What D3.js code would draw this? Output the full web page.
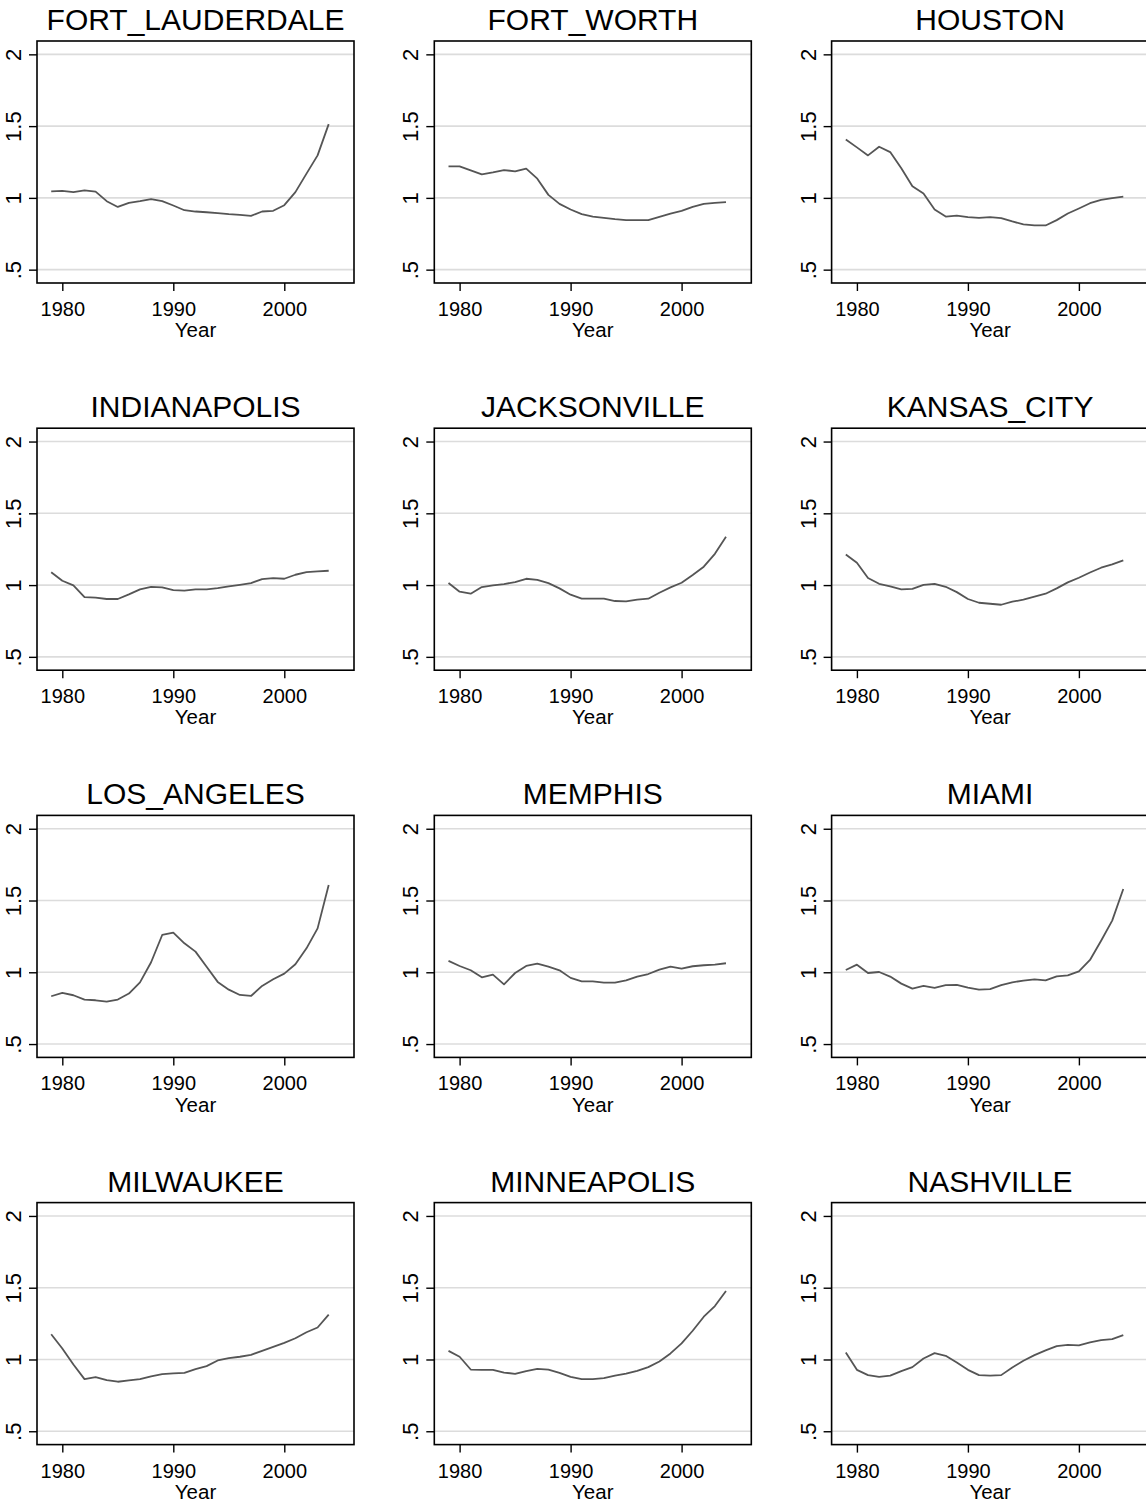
<!DOCTYPE html>
<html>
<head>
<meta charset="utf-8">
<script src="https://cdn.jsdelivr.net/npm/d3@7"></script>
<style>
  html, body { margin: 0; padding: 0; background: #ffffff; overflow: hidden; }
  svg { display: block; }
  text { font-family: "Liberation Sans", Arial, Helvetica, sans-serif; fill: #000; }
</style>
</head>
<body>
<svg id="chart" width="1146" height="1506"></svg>
<script>
// ---- data ----
const years = [1979,1980,1981,1982,1983,1984,1985,1986,1987,1988,1989,1990,1991,1992,1993,1994,1995,1996,1997,1998,1999,2000,2001,2002,2003,2004];
const cities = ["FORT_LAUDERDALE","FORT_WORTH","HOUSTON","INDIANAPOLIS","JACKSONVILLE","KANSAS_CITY","LOS_ANGELES","MEMPHIS","MIAMI","MILWAUKEE","MINNEAPOLIS","NASHVILLE"];
const fortLauderdale = [1.046,1.049,1.040,1.053,1.044,0.977,0.937,0.965,0.977,0.991,0.977,0.947,0.914,0.905,0.900,0.894,0.887,0.882,0.875,0.905,0.910,0.949,1.040,1.169,1.296,1.514];
const fortWorth      = [1.220,1.220,1.192,1.164,1.178,1.194,1.185,1.204,1.134,1.021,0.958,0.919,0.887,0.870,0.861,0.852,0.845,0.845,0.845,0.868,0.891,0.910,0.938,0.958,0.965,0.970];
const houston        = [1.407,1.352,1.296,1.356,1.319,1.206,1.081,1.030,0.919,0.870,0.877,0.866,0.861,0.866,0.859,0.836,0.815,0.808,0.808,0.845,0.891,0.926,0.963,0.986,0.998,1.009];
const indianapolis   = [1.090,1.030,0.998,0.916,0.912,0.903,0.903,0.935,0.970,0.988,0.984,0.965,0.961,0.970,0.970,0.979,0.991,1.002,1.014,1.042,1.049,1.044,1.072,1.090,1.095,1.100];
const jacksonville   = [1.014,0.954,0.940,0.986,0.998,1.007,1.021,1.044,1.037,1.014,0.977,0.933,0.905,0.905,0.905,0.889,0.886,0.898,0.905,0.947,0.984,1.016,1.070,1.128,1.218,1.336];
const kansasCity     = [1.213,1.155,1.049,1.009,0.991,0.970,0.974,1.002,1.009,0.988,0.951,0.903,0.877,0.870,0.863,0.884,0.898,0.919,0.940,0.977,1.019,1.051,1.088,1.121,1.144,1.172];
const losAngeles     = [0.833,0.856,0.840,0.810,0.805,0.796,0.810,0.852,0.930,1.070,1.260,1.276,1.202,1.144,1.039,0.933,0.879,0.842,0.835,0.905,0.951,0.991,1.056,1.167,1.306,1.608];
const memphis        = [1.079,1.044,1.014,0.965,0.984,0.916,0.995,1.044,1.060,1.039,1.014,0.961,0.937,0.937,0.928,0.928,0.944,0.970,0.988,1.019,1.039,1.026,1.042,1.049,1.053,1.063];
const miami          = [1.016,1.053,0.995,1.002,0.970,0.921,0.886,0.905,0.891,0.910,0.912,0.893,0.879,0.882,0.910,0.930,0.942,0.951,0.944,0.972,0.979,1.007,1.086,1.220,1.360,1.580];
const milwaukee      = [1.176,1.077,0.965,0.863,0.877,0.856,0.845,0.854,0.863,0.882,0.898,0.903,0.907,0.933,0.954,0.993,1.009,1.019,1.032,1.060,1.088,1.116,1.148,1.190,1.223,1.313];
const minneapolis    = [1.060,1.019,0.930,0.928,0.928,0.909,0.900,0.919,0.935,0.930,0.907,0.879,0.863,0.863,0.870,0.888,0.902,0.921,0.947,0.986,1.042,1.112,1.200,1.298,1.372,1.477];
const nashville      = [1.049,0.928,0.891,0.879,0.888,0.919,0.947,1.007,1.044,1.026,0.979,0.928,0.891,0.888,0.891,0.944,0.991,1.030,1.063,1.093,1.102,1.098,1.119,1.135,1.142,1.170];
const seriesValues = [fortLauderdale,fortWorth,houston,indianapolis,jacksonville,kansasCity,losAngeles,memphis,miami,milwaukee,minneapolis,nashville];
const xTicks = [1980,1990,2000];
const yTicks = [0.5,1,1.5,2];
const yTickLabels = [".5","1","1.5","2"];
const xTitle = "Year";

// ---- layout ----
const ncol = 3;
const plotW = 317, plotH = 242;
const colX0 = 37, colStep = 397.3;
const rowY0 = 41, rowStep = 387.2;

const svg = d3.select("#chart");

const x = d3.scaleLinear().domain([1977.72, 2006.28]).range([0, plotW]);
const y = d3.scaleLinear().domain([0.407, 2.093]).range([plotH, 0]);

cities.forEach((name, i) => {
  const c = i % ncol, r = Math.floor(i / ncol);
  const g = svg.append("g").attr("transform", `translate(${colX0 + c*colStep},${rowY0 + r*rowStep})`);

  // gridlines
  g.append("g").selectAll("line").data(yTicks).join("line")
    .attr("x1", 0).attr("x2", plotW)
    .attr("y1", d => y(d)).attr("y2", d => y(d))
    .attr("stroke", "#dcdcdc").attr("stroke-width", 1.6);

  // data line
  const data = years.map((yr, k) => [yr, seriesValues[i][k]]);
  g.append("path").datum(data)
    .attr("fill", "none").attr("stroke", "#555555").attr("stroke-width", 1.8)
    .attr("stroke-linejoin", "round")
    .attr("d", d3.line().x(d => x(d[0])).y(d => y(d[1])));

  // x axis
  const xa = g.append("g").attr("transform", `translate(0,${plotH})`)
    .call(d3.axisBottom(x).tickValues(xTicks).tickFormat(d3.format("d")).tickSize(8).tickSizeOuter(0));
  xa.select(".domain").remove();
  xa.selectAll(".tick line").attr("stroke", "#000").attr("stroke-width", 1.4);
  xa.selectAll(".tick text").attr("font-size", 20).attr("dy", null).attr("y", 33)
    .attr("font-family", "Liberation Sans, Arial, sans-serif").attr("fill", "#000");

  // y axis
  const ya = g.append("g")
    .call(d3.axisLeft(y).tickValues(yTicks).tickFormat((d, k) => yTickLabels[k]).tickSize(8).tickSizeOuter(0));
  ya.select(".domain").remove();
  ya.selectAll(".tick line").attr("stroke", "#000").attr("stroke-width", 1.4);
  ya.selectAll(".tick text")
    .attr("font-size", 22).attr("x", null).attr("dy", null).attr("y", null)
    .attr("text-anchor", "middle")
    .attr("transform", "translate(-16,0) rotate(-90)")
    .attr("font-family", "Liberation Sans, Arial, sans-serif").attr("fill", "#000");

  // frame
  g.append("rect").attr("x", 0).attr("y", 0).attr("width", plotW).attr("height", plotH)
    .attr("fill", "none").attr("stroke", "#000").attr("stroke-width", 1.6);

  // title
  g.append("text").attr("x", plotW/2).attr("y", -11).attr("text-anchor", "middle")
    .attr("font-size", 30).text(name);

  // x title
  g.append("text").attr("x", plotW/2).attr("y", plotH + 54.3).attr("text-anchor", "middle")
    .attr("font-size", 20.5).text(xTitle);
});
</script>
</body>
</html>
